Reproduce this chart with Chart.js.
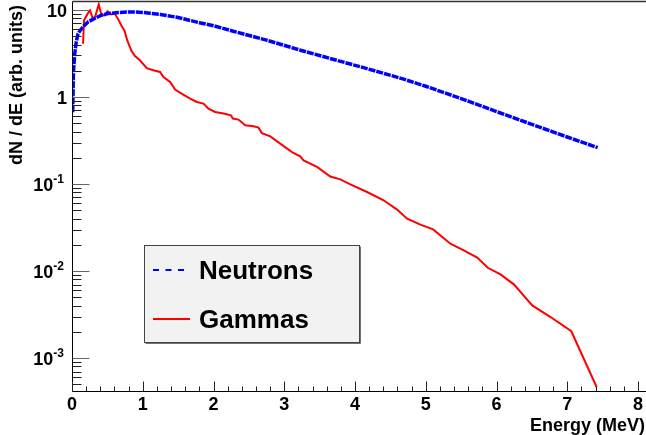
<!DOCTYPE html>
<html>
<head>
<meta charset="utf-8">
<script src="https://cdn.jsdelivr.net/npm/chart.js@4.4.1/dist/chart.umd.min.js"></script>
<style>
  html, body { margin: 0; padding: 0; background: #fff; }
  canvas { display: block; }
</style>
</head>
<body>
<canvas id="spectrum" width="646" height="435"></canvas>
<script>
// values
const neutronE = [0.01, 0.02, 0.04, 0.06, 0.085, 0.12, 0.156, 0.226, 0.32, 0.415, 0.51, 0.65, 0.8, 0.95,
  1.1, 1.25, 1.5, 1.8, 2.0, 2.28, 2.75, 3.23, 3.7, 4.17, 4.64, 5.0, 5.5, 6.0, 6.5, 7.0, 7.43];
const neutronN = [0.67, 1.9, 3.2, 4.3, 5.3, 5.9, 6.4, 7.3, 8.0, 8.7, 9.1, 9.35, 9.5, 9.45,
  9.2, 8.9, 8.2, 7.15, 6.6, 5.7, 4.5, 3.45, 2.7, 2.12, 1.65, 1.33, 0.96, 0.68, 0.485, 0.347, 0.262];

const gammaE = [0.156, 0.17, 0.226, 0.255, 0.297, 0.33, 0.378, 0.415, 0.462, 0.5, 0.556, 0.604, 0.65, 0.70,
  0.745, 0.78, 0.84, 0.89, 0.96, 1.057, 1.15, 1.245, 1.292, 1.387, 1.457, 1.56, 1.67, 1.764, 1.858, 1.929,
  2.023, 2.141, 2.246, 2.274, 2.353, 2.448, 2.565, 2.636, 2.684, 2.802, 3.109, 3.226, 3.273, 3.463, 3.651,
  3.792, 3.934, 4.17, 4.405, 4.595, 4.736, 4.924, 5.104, 5.349, 5.537, 5.727, 5.877, 6.056, 6.245, 6.505,
  6.764, 7.057, 7.415];
const gammaN = [4.1, 7.6, 9.2, 9.9, 7.8, 8.5, 11.6, 8.9, 8.7, 9.7, 8.9, 9.1, 7.9, 6.6,
  5.7, 4.5, 3.4, 2.95, 2.64, 2.15, 2.03, 1.94, 1.70, 1.49, 1.22, 1.08, 0.96, 0.877, 0.84, 0.736,
  0.673, 0.645, 0.616, 0.565, 0.55, 0.473, 0.46, 0.445, 0.385, 0.353, 0.233, 0.208, 0.187, 0.157, 0.122,
  0.113, 0.0993, 0.081, 0.065, 0.0508, 0.040, 0.0341, 0.0301, 0.0206, 0.0173, 0.0143, 0.0109, 0.00916, 0.00703, 0.00403,
  0.00296, 0.00203, 0.000465];

const xTickLabels = ['0', '1', '2', '3', '4', '5', '6', '7', '8'];
const yTickValues = [0.001, 0.01, 0.1, 1, 10];
const yTickLabels = ['10^-3', '10^-2', '10^-1', '1', '10'];

const FONT = '"Liberation Sans", Arial, Helvetica, sans-serif';

function toPoints(xs, ys) {
  return xs.map((x, i) => ({ x: x, y: ys[i] }));
}

// ROOT-like frame, ticks, labels and legend
const rootStyle = {
  id: 'rootStyle',
  afterDraw(chart) {
    const ctx = chart.ctx;
    const xs = chart.scales.x;
    const ys = chart.scales.y;
    const area = chart.chartArea;
    const L = Math.round(area.left) + 0.5;
    const B = Math.round(area.bottom) + 0.5;
    const T = Math.round(area.top) + 0.5;

    ctx.save();

    // frame
    ctx.strokeStyle = '#000';
    ctx.lineWidth = 1;
    ctx.beginPath();
    ctx.moveTo(L, T); ctx.lineTo(L, B); ctx.lineTo(chart.width, B);
    ctx.stroke();
    ctx.strokeStyle = '#333';
    ctx.lineWidth = 1.5;
    ctx.beginPath();
    ctx.moveTo(L, T); ctx.lineTo(chart.width, T);
    ctx.stroke();

    // x ticks
    ctx.strokeStyle = '#222';
    ctx.lineWidth = 1;
    for (let i = 0; i <= 40; i++) {
      const v = i * 0.2;
      const px = Math.round(xs.getPixelForValue(v)) + 0.5;
      const len = (i % 5 === 0) ? 10 : 5;
      ctx.beginPath();
      ctx.moveTo(px, B); ctx.lineTo(px, B - len);
      ctx.stroke();
    }

    // y ticks (log)
    for (let d = -4; d <= 1; d++) {
      for (let m = 1; m <= 9; m++) {
        const v = m * Math.pow(10, d);
        if (v < ys.min || v > ys.max) continue;
        const py = Math.round(ys.getPixelForValue(v)) + 0.5;
        ctx.strokeStyle = m === 1 ? '#666' : '#222';
        ctx.beginPath();
        ctx.moveTo(L, py); ctx.lineTo(L + (m === 1 ? 17 : 9), py);
        ctx.stroke();
      }
    }

    // x labels
    ctx.fillStyle = '#000';
    ctx.font = 'bold 18px ' + FONT;
    ctx.textAlign = 'center';
    ctx.textBaseline = 'alphabetic';
    xTickLabels.forEach((lab) => {
      const px = xs.getPixelForValue(parseFloat(lab));
      ctx.fillText(lab, px, 410);
    });

    // y labels
    yTickValues.forEach((v, i) => {
      const py = ys.getPixelForValue(v);
      const parts = yTickLabels[i].split('^');
      ctx.textAlign = 'right';
      if (parts.length === 2) {
        ctx.font = 'bold 12px ' + FONT;
        const ew = ctx.measureText(parts[1]).width;
        ctx.fillText(parts[1], 64, py - 1);
        ctx.font = 'bold 18px ' + FONT;
        ctx.fillText(parts[0], 64 - ew, py + 7);
      } else {
        ctx.font = 'bold 18px ' + FONT;
        ctx.fillText(parts[0], 67, py + 7);
      }
    });

    // axis titles
    ctx.font = 'bold 18px ' + FONT;
    ctx.textAlign = 'right';
    ctx.fillText('Energy (MeV)', 645, 431);
    ctx.save();
    ctx.translate(22, 5);
    ctx.rotate(-Math.PI / 2);
    ctx.textAlign = 'right';
    ctx.fillText('dN / dE (arb. units)', 0, 0);
    ctx.restore();

    // legend box
    const bx = 144.5, by = 245.5, bw = 215, bh = 97;
    ctx.fillStyle = '#f2f2f2';
    ctx.fillRect(bx, by, bw, bh);
    ctx.strokeStyle = '#444';
    ctx.lineWidth = 1;
    ctx.strokeRect(bx, by, bw, bh);
    ctx.lineWidth = 1.5;
    ctx.beginPath();
    ctx.moveTo(bx + bw + 0.5, by + 1); ctx.lineTo(bx + bw + 0.5, by + bh + 0.5); ctx.lineTo(bx + 1, by + bh + 0.5);
    ctx.stroke();

    const ds = chart.data.datasets;
    const rows = [270, 319];
    ds.forEach((d, i) => {
      ctx.strokeStyle = d.borderColor;
      ctx.lineWidth = 2;
      ctx.setLineDash(i === 0 ? [6, 6.5] : []);
      ctx.beginPath();
      ctx.moveTo(153, rows[i]); ctx.lineTo(190, rows[i]);
      ctx.stroke();
      ctx.setLineDash([]);
      ctx.fillStyle = '#000';
      ctx.font = 'bold 26px ' + FONT;
      ctx.textAlign = 'left';
      ctx.fillText(d.label, 199, rows[i] + 9);
    });

    ctx.restore();
  }
};

new Chart(document.getElementById('spectrum').getContext('2d'), {
  type: 'line',
  data: {
    datasets: [
      {
        label: 'Neutrons',
        data: toPoints(neutronE, neutronN),
        borderColor: '#0000ff',
        borderWidth: 3.5,
        borderDash: [7, 1],
        pointRadius: 0,
        tension: 0,
        fill: false
      },
      {
        label: 'Gammas',
        data: toPoints(gammaE, gammaN),
        borderColor: '#ff0000',
        borderWidth: 2,
        pointRadius: 0,
        tension: 0,
        fill: false
      }
    ]
  },
  plugins: [rootStyle],
  options: {
    responsive: false,
    animation: false,
    layout: { padding: { top: 1, right: 8, left: 0, bottom: 0 } },
    plugins: { legend: { display: false }, tooltip: { enabled: false } },
    scales: {
      x: {
        type: 'linear',
        min: 0,
        max: 8,
        grid: { display: false },
        border: { display: false },
        ticks: { display: false },
        afterFit: (s) => { s.height = 44; }
      },
      y: {
        type: 'logarithmic',
        min: 4.18e-4,
        max: 12.69,
        grid: { display: false },
        border: { display: false },
        ticks: { display: false },
        afterFit: (s) => { s.width = 72; }
      }
    }
  }
});
</script>
</body>
</html>
